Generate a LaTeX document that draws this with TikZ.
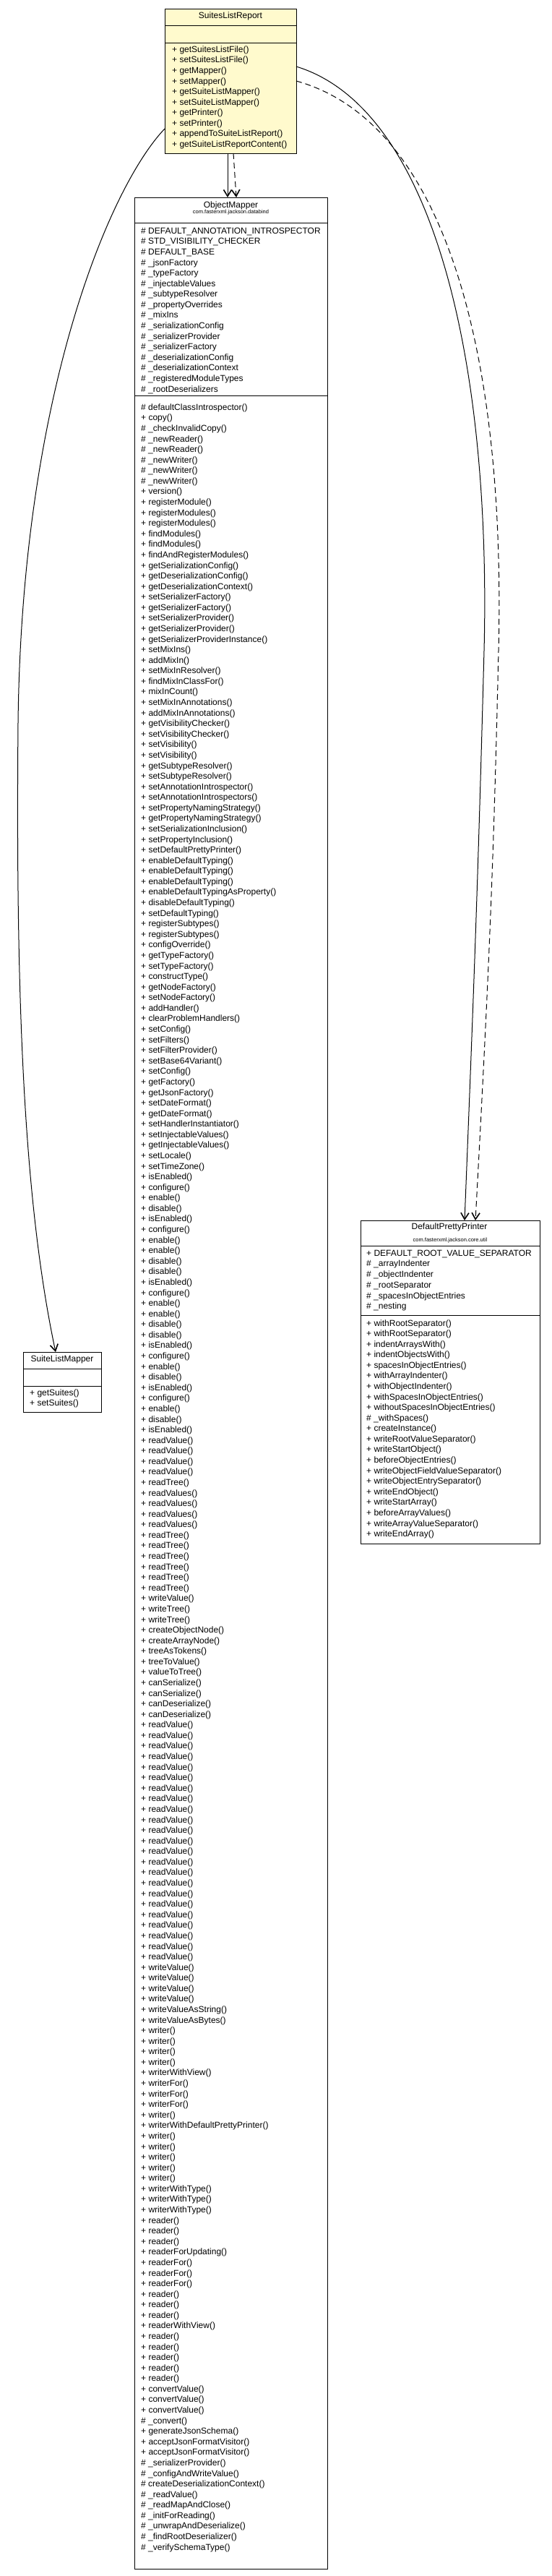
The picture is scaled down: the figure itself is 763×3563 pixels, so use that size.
\documentclass[tikz,border=0pt]{standalone}
\usepackage{fontspec}
\setmainfont{Liberation Sans}
\usetikzlibrary{positioning,arrows.meta,calc}
\tikzset{>={Straight Barb[length=9pt,width=11pt,line width=1.6pt]}}
\definecolor{hilite}{HTML}{FFFACD}
\newcommand*{\pub}[1]{+ #1()}
\newcommand*{\pro}[1]{\# #1()}
\newcommand*{\rowgap}{14.58}

\tikzset{
  classbox/.style={draw=black,line width=1pt},
  title/.style={inner sep=0pt,font=\fontsize{12}{14.58}\selectfont},
  pkg/.style={inner sep=0pt,font=\fontsize{7.5}{9}\selectfont},
  member/.style={anchor=base west,inner sep=0pt,font=\fontsize{12}{14.58}\selectfont},
  assoc/.style={->,line width=1pt},
  depend/.style={->,line width=1pt,dash pattern=on 8pt off 5pt},
}

\begin{document}
\begin{tikzpicture}[x=1pt,y=-1pt]
\useasboundingbox (0,0) rectangle (763,3563);

% SuitesListReport
\filldraw[classbox,fill=hilite] (228,12) rectangle (410,212);
\draw[classbox] (228,35) -- (410,35);
\draw[classbox] (228,59) -- (410,59);
\node[title] (rep) at (319,22) {SuitesListReport};
\foreach \m [count=\i from 0] in {\pub{getSuitesListFile},\pub{setSuitesListFile},
  \pub{getMapper},\pub{setMapper},\pub{getSuiteListMapper},\pub{setSuiteListMapper},
  \pub{getPrinter},\pub{setPrinter},\pub{appendToSuiteListReport},\pub{getSuiteListReportContent}}
  \node[member] (rep-m\i) at (238,{72.3+\rowgap*\i}) {\m};
\coordinate (repS1) at (315,212);
\coordinate (repS2) at (323,212);
\coordinate (repW) at (228,178);
\coordinate (repE1) at (410,92);
\coordinate (repE2) at (410,112);

% ObjectMapper
\draw[classbox] (186,273) rectangle (453,3553);
\draw[classbox] (186,308) -- (453,308);
\draw[classbox] (186,547) -- (453,547);
\node[title] (om) at (319.5,284) {ObjectMapper};
\node[pkg] (omp) at (319.5,293.5) {com.fasterxml.jackson.databind};
\foreach \m [count=\i from 0] in {\# DEFAULT\_ANNOTATION\_INTROSPECTOR,\# STD\_VISIBILITY\_CHECKER,
  \# DEFAULT\_BASE,\# \_jsonFactory,\# \_typeFactory,\# \_injectableValues,\# \_subtypeResolver,
  \# \_propertyOverrides,\# \_mixIns,\# \_serializationConfig,\# \_serializerProvider,
  \# \_serializerFactory,\# \_deserializationConfig,\# \_deserializationContext,
  \# \_registeredModuleTypes,\# \_rootDeserializers}
  \node[member] (om-f\i) at (195,{323.3+\rowgap*\i}) {\m};
\foreach \m [count=\i from 0] in {\pro{defaultClassIntrospector},\pub{copy},\pro{\_checkInvalidCopy},
  \pro{\_newReader},\pro{\_newReader},\pro{\_newWriter},\pro{\_newWriter},\pro{\_newWriter},
  \pub{version},\pub{registerModule},\pub{registerModules},\pub{registerModules},
  \pub{findModules},\pub{findModules},\pub{findAndRegisterModules},\pub{getSerializationConfig},
  \pub{getDeserializationConfig},\pub{getDeserializationContext},\pub{setSerializerFactory},
  \pub{getSerializerFactory},\pub{setSerializerProvider},\pub{getSerializerProvider},
  \pub{getSerializerProviderInstance},\pub{setMixIns},\pub{addMixIn},\pub{setMixInResolver},
  \pub{findMixInClassFor},\pub{mixInCount},\pub{setMixInAnnotations},\pub{addMixInAnnotations},
  \pub{getVisibilityChecker},\pub{setVisibilityChecker},\pub{setVisibility},\pub{setVisibility},
  \pub{getSubtypeResolver},\pub{setSubtypeResolver},\pub{setAnnotationIntrospector},
  \pub{setAnnotationIntrospectors},\pub{setPropertyNamingStrategy},\pub{getPropertyNamingStrategy},
  \pub{setSerializationInclusion},\pub{setPropertyInclusion},\pub{setDefaultPrettyPrinter},
  \pub{enableDefaultTyping},\pub{enableDefaultTyping},\pub{enableDefaultTyping},
  \pub{enableDefaultTypingAsProperty},\pub{disableDefaultTyping},\pub{setDefaultTyping},
  \pub{registerSubtypes},\pub{registerSubtypes},\pub{configOverride},\pub{getTypeFactory},
  \pub{setTypeFactory},\pub{constructType},\pub{getNodeFactory},\pub{setNodeFactory},
  \pub{addHandler},\pub{clearProblemHandlers},\pub{setConfig},\pub{setFilters},
  \pub{setFilterProvider},\pub{setBase64Variant},\pub{setConfig},\pub{getFactory},
  \pub{getJsonFactory},\pub{setDateFormat},\pub{getDateFormat},\pub{setHandlerInstantiator},
  \pub{setInjectableValues},\pub{getInjectableValues},\pub{setLocale},\pub{setTimeZone},
  \pub{isEnabled},\pub{configure},\pub{enable},\pub{disable},
  \pub{isEnabled},\pub{configure},\pub{enable},\pub{enable},\pub{disable},\pub{disable},
  \pub{isEnabled},\pub{configure},\pub{enable},\pub{enable},\pub{disable},\pub{disable},
  \pub{isEnabled},\pub{configure},\pub{enable},\pub{disable},
  \pub{isEnabled},\pub{configure},\pub{enable},\pub{disable},\pub{isEnabled},
  \pub{readValue},\pub{readValue},\pub{readValue},\pub{readValue},\pub{readTree},
  \pub{readValues},\pub{readValues},\pub{readValues},\pub{readValues},
  \pub{readTree},\pub{readTree},\pub{readTree},\pub{readTree},\pub{readTree},\pub{readTree},
  \pub{writeValue},\pub{writeTree},\pub{writeTree},\pub{createObjectNode},\pub{createArrayNode},
  \pub{treeAsTokens},\pub{treeToValue},\pub{valueToTree},\pub{canSerialize},\pub{canSerialize},
  \pub{canDeserialize},\pub{canDeserialize},
  \pub{readValue},\pub{readValue},\pub{readValue},\pub{readValue},\pub{readValue},
  \pub{readValue},\pub{readValue},\pub{readValue},\pub{readValue},\pub{readValue},
  \pub{readValue},\pub{readValue},\pub{readValue},\pub{readValue},\pub{readValue},
  \pub{readValue},\pub{readValue},\pub{readValue},\pub{readValue},\pub{readValue},
  \pub{readValue},\pub{readValue},\pub{readValue},
  \pub{writeValue},\pub{writeValue},\pub{writeValue},\pub{writeValue},
  \pub{writeValueAsString},\pub{writeValueAsBytes},
  \pub{writer},\pub{writer},\pub{writer},\pub{writer},\pub{writerWithView},
  \pub{writerFor},\pub{writerFor},\pub{writerFor},\pub{writer},\pub{writerWithDefaultPrettyPrinter},
  \pub{writer},\pub{writer},\pub{writer},\pub{writer},\pub{writer},
  \pub{writerWithType},\pub{writerWithType},\pub{writerWithType},
  \pub{reader},\pub{reader},\pub{reader},\pub{readerForUpdating},
  \pub{readerFor},\pub{readerFor},\pub{readerFor},
  \pub{reader},\pub{reader},\pub{reader},\pub{readerWithView},
  \pub{reader},\pub{reader},\pub{reader},\pub{reader},\pub{reader},
  \pub{convertValue},\pub{convertValue},\pub{convertValue},\pro{\_convert},
  \pub{generateJsonSchema},\pub{acceptJsonFormatVisitor},\pub{acceptJsonFormatVisitor},
  \pro{\_serializerProvider},\pro{\_configAndWriteValue},\pro{createDeserializationContext},
  \pro{\_readValue},\pro{\_readMapAndClose},\pro{\_initForReading},
  \pro{\_unwrapAndDeserialize},\pro{\_findRootDeserializer},\pro{\_verifySchemaType}}
  \node[member] (om-m\i) at (195,{567.3+\rowgap*\i}) {\m};
\coordinate (omN1) at (315,273);
\coordinate (omN2) at (327,273);

% SuiteListMapper
\draw[classbox] (32,1870) rectangle (140,1953);
\draw[classbox] (32,1893) -- (140,1893);
\draw[classbox] (32,1917) -- (140,1917);
\node[title] (slm) at (86,1880) {SuiteListMapper};
\foreach \m [count=\i from 0] in {\pub{getSuites},\pub{setSuites}}
  \node[member] (slm-m\i) at (41,{1930+\rowgap*\i}) {\m};
\coordinate (slmN) at (77,1870);

% DefaultPrettyPrinter
\draw[classbox] (499,1688) rectangle (747,2135);
\draw[classbox] (499,1723) -- (747,1723);
\draw[classbox] (499,1819) -- (747,1819);
\node[title] (dpp) at (622,1697) {DefaultPrettyPrinter};
\node[pkg] (dppp) at (623,1716) {com.fasterxml.jackson.core.util};
\foreach \m [count=\i from 0] in {+ DEFAULT\_ROOT\_VALUE\_SEPARATOR,\# \_arrayIndenter,
  \# \_objectIndenter,\# \_rootSeparator,\# \_spacesInObjectEntries,\# \_nesting}
  \node[member] (dpp-f\i) at (507,{1737.3+14.67*\i}) {\m};
\foreach \m [count=\i from 0] in {\pub{withRootSeparator},\pub{withRootSeparator},
  \pub{indentArraysWith},\pub{indentObjectsWith},\pub{spacesInObjectEntries},
  \pub{withArrayIndenter},\pub{withObjectIndenter},\pub{withSpacesInObjectEntries},
  \pub{withoutSpacesInObjectEntries},\pro{\_withSpaces},\pub{createInstance},
  \pub{writeRootValueSeparator},\pub{writeStartObject},\pub{beforeObjectEntries},
  \pub{writeObjectFieldValueSeparator},\pub{writeObjectEntrySeparator},\pub{writeEndObject},
  \pub{writeStartArray},\pub{beforeArrayValues},\pub{writeArrayValueSeparator},\pub{writeEndArray}}
  \node[member] (dpp-m\i) at (507,{1834+\rowgap*\i}) {\m};
\coordinate (dppN1) at (643,1688);
\coordinate (dppN2) at (658,1688);

% associations and dependencies
\draw[assoc] (repS1) -- (omN1);
\draw[depend] (repS2) -- (omN2);
\draw[assoc] (repW) .. controls (150,260) and (30,550) .. (25,1000)
  .. controls (22,1350) and (30,1650) .. (slmN);
\draw[assoc] (repE1) .. controls (600,150) and (680,500) .. (670,900)
  .. controls (662,1200) and (657,1340) .. (dppN1);
\draw[depend] (repE2) .. controls (620,170) and (700,500) .. (690,900)
  .. controls (683,1200) and (677,1340) .. (dppN2);
\end{tikzpicture}
\end{document}
